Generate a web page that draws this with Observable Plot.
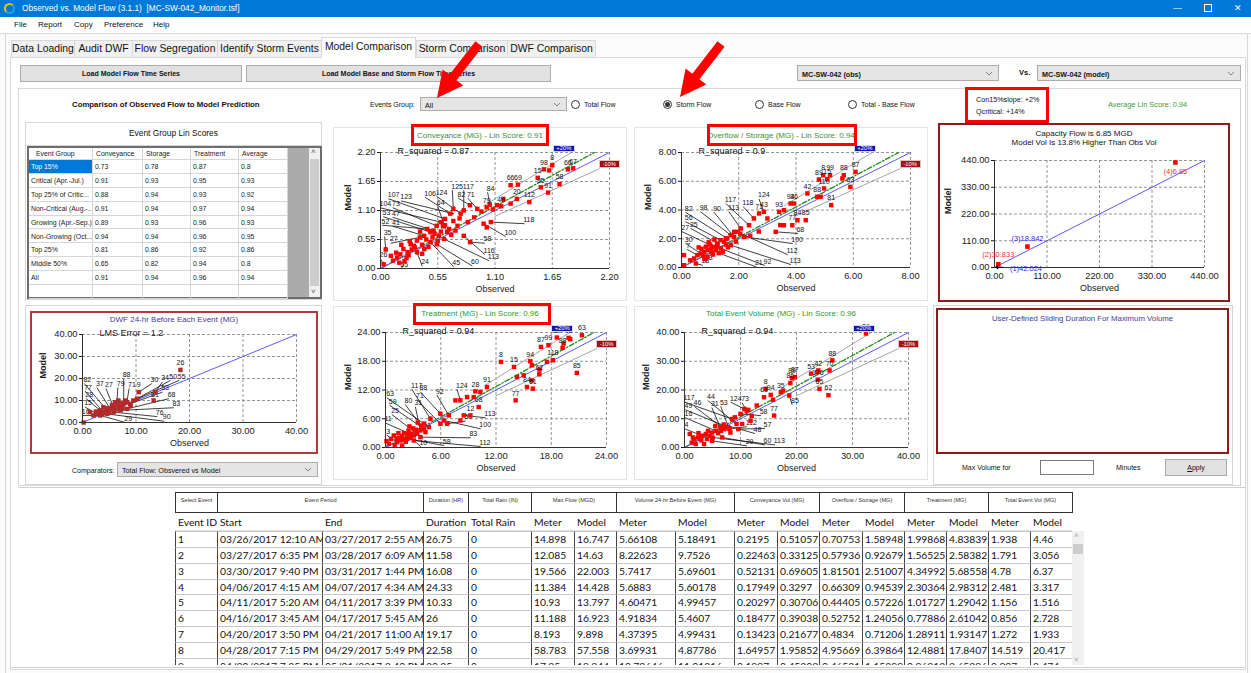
<!DOCTYPE html>
<html><head><meta charset="utf-8">
<script src="https://cdn.jsdelivr.net/npm/d3@7"></script>
<script src="https://cdn.jsdelivr.net/npm/@observablehq/plot@0.6"></script>
<style>
html,body{margin:0;padding:0}
body{width:1251px;height:673px;position:relative;overflow:hidden;background:#fff;font-family:"Liberation Sans",Arial,sans-serif;color:#111}
.abs{position:absolute;box-sizing:border-box}
svg{overflow:visible}
</style></head><body>
<script>
// ---------------- DATA ----------------
const tabNames = ["Data Loading","Audit DWF","Flow Segregation","Identify Storm Events","Model Comparison","Storm Comparison","DWF Comparison"];
const menuItems = ["File","Report","Copy","Preference","Help"];
const radioOptions = ["Total Flow","Storm Flow","Base Flow","Total - Base Flow"];

const groupNames = ["Top 15%","Critical (Apr.-Jul.)","Top 25% of Critic...","Non-Critical (Aug.-...","Growing (Apr.-Sep.)","Non-Growing (Oct...","Top 25%","Middle 50%","All"];
const conveyanceScores = [0.73,0.91,0.88,0.91,0.89,0.94,0.81,0.65,0.91];
const storageScores    = [0.78,0.93,0.94,0.94,0.93,0.94,0.86,0.82,0.94];
const treatmentScores  = [0.87,0.95,0.93,0.97,0.96,0.96,0.92,0.94,0.96];
const averageScores    = [0.8,0.93,0.92,0.94,0.93,0.95,0.86,0.8,0.94];

const chartTitles = ["Conveyance (MG) - Lin Score: 0.91","Overflow / Storage (MG) - Lin Score: 0.94","Treatment (MG) - Lin Score: 0.96","Total Event Volume (MG) - Lin Score: 0.96"];
const rSquaredLabels = ["R_squared = 0.87","R_squared = 0.9","R_squared = 0.94","R_squared = 0.94"];
const fitSlopes = [1.07,1.054,1.06,1.067];
const bandLabels = ["+20%","-10%"];
const bandFactors = [1.2,0.9];

const conveyanceTicks = [0,0.55,1.10,1.65,2.20];
const overflowTicks = [0,2,4,6,8];
const treatmentTicks = [0,6,12,18,24];
const totalTicks = [0,10,20,30,40];
const dwfTicks = [0,10,20,30,40];
const capacityTicks = [0,110,220,330,440];

// [observed, model, id]
const conveyancePoints = [[1.65,1.96,"8"],[1.57,1.88,"98"],[1.62,1.86,""],[1.51,1.72,"15"],[1.80,1.88,"66"],[1.85,1.90,"67"],[1.72,1.60,"58"],[1.54,1.54,"95"],[1.61,1.44,"91"],[1.25,1.58,"66"],[1.32,1.59,"69"],[1.43,1.26,"112"],[1.18,1.32,""],[1.25,1.23,""],[1.31,1.32,"20"],[1.16,1.18,"49"],[1.12,1.20,""],[1.02,1.16,"79"],[1.05,1.21,""],[0.93,1.13,""],[0.86,1.20,""],[0.80,1.10,""],[0.77,1.04,""],[0.70,1.13,""],[0.67,1.04,""],[0.62,0.94,""],[0.58,0.88,""],[0.54,0.81,""],[0.51,0.72,""],[0.48,0.69,""],[0.45,0.75,""],[0.42,0.62,""],[0.38,0.59,""],[0.35,0.53,""],[0.32,0.43,""],[0.29,0.46,""],[0.26,0.31,""],[0.22,0.37,""],[0.19,0.27,""],[0.16,0.21,""],[0.10,0.24,""],[0.05,0.36,""],[0.03,0.08,""],[0.18,0.11,""],[0.64,0.69,""],[0.74,0.81,""],[0.99,0.85,""],[1.06,0.88,""],[1.02,0.78,""],[0.80,0.62,""],[0.86,0.50,""],[0.61,0.56,""],[0.48,0.50,""],[0.54,0.46,""],[0.35,0.31,""],[0.42,0.37,""],[0.56,0.62,""],[0.66,0.75,""],[0.40,0.45,""],[0.30,0.36,""],[0.90,0.97,""],[0.97,1.08,""],[1.08,1.12,""],[0.50,0.60,""],[0.60,0.80,""],[0.70,0.90,""],[0.25,0.20,""],[0.12,0.15,""],[0.20,0.45,""],[0.15,0.30,""],[0.44,0.55,""],[0.52,0.66,""],[0.58,0.70,""],[0.68,0.64,""],[0.33,0.40,""],[0.27,0.25,""],[0.72,0.72,""],[0.46,0.41,""],[0.38,0.70,""],[0.62,0.82,""],[0.55,0.52,""],[0.76,0.95,""],[0.84,0.88,""],[0.28,0.52,""],[0.40,0.28,""],[0.23,0.14,""]];
// [id, label observed, label model, point observed, point model]
const conveyanceLeaders = [["107",0.08,1.32,0.62,0.94],["123",0.2,1.28,0.70,1.04],["104",0.0,1.15,0.58,0.88],["73",0.12,1.15,0.54,0.81],["53",0.03,0.98,0.48,0.69],["47",0.12,0.97,0.51,0.72],["52",0.02,0.82,0.45,0.75],["41",0.12,0.80,0.42,0.62],["35",0.04,0.60,0.05,0.36],["27",0.1,0.48,0.38,0.59],["26",0.0,0.18,0.03,0.08],["125",0.69,1.48,0.70,1.13],["117",0.80,1.48,0.80,1.10],["106",0.43,1.35,0.67,1.04],["124",0.54,1.37,0.77,1.04],["82",0.75,1.33,0.86,1.20],["71",0.84,1.33,0.93,1.13],["64",0.55,1.17,0.64,0.69],["84",1.03,1.44,1.05,1.21],["118",1.38,0.85,1.06,0.88],["100",1.2,0.61,0.99,0.85],["58",1.0,0.48,0.86,0.50],["116",1.0,0.27,0.80,0.62],["113",1.04,0.15,0.61,0.56],["60",0.88,0.05,0.54,0.46],["45",0.7,0.04,0.48,0.50],["24",0.4,0.05,0.35,0.31],["55",0.2,0.0,0.25,0.20]];

const overflowPoints = [[6.08,6.65,"87"],[5.67,6.42,"88"],[5.62,6.19,""],[5.90,5.61,"63"],[4.95,6.42,"8"],[5.19,6.42,"99"],[4.80,6.12,"89"],[5.09,6.15,"15"],[4.98,5.50,"110"],[4.74,4.92,"88"],[4.86,4.92,""],[5.23,4.34,"81"],[4.40,5.15,"42"],[3.93,4.45,"36"],[3.81,4.45,"94"],[3.58,3.99,""],[3.41,3.87,"93"],[4.05,3.29,"84"],[4.34,3.29,"85"],[3.87,2.94,"77"],[3.58,2.94,""],[3.45,2.95,""],[3.29,2.48,""],[3.00,3.41,""],[2.88,3.87,"43"],[2.71,3.76,"71"],[2.53,3.41,""],[2.36,2.94,""],[2.07,2.71,""],[1.95,2.48,""],[1.84,2.13,""],[1.72,2.25,""],[1.60,2.02,""],[1.49,1.79,""],[1.37,1.90,""],[1.26,1.67,""],[1.14,1.44,""],[1.02,1.32,""],[0.91,1.21,""],[0.79,1.09,""],[0.67,0.97,""],[0.56,0.86,""],[0.44,0.63,""],[0.09,0.86,""],[0.09,0.16,""],[0.50,0.28,""],[0.91,0.74,""],[1.72,1.55,""],[1.37,1.32,""],[2.19,2.13,""],[1.84,2.48,""],[1.55,2.02,""],[1.20,1.20,""],[1.00,1.60,""],[0.70,1.30,""],[1.10,0.90,""],[1.45,1.10,""],[0.80,0.60,""],[0.30,0.50,""],[2.40,2.20,""],[2.70,2.50,""],[1.90,1.80,""],[1.30,1.00,""],[0.60,1.40,""],[0.95,1.75,""],[1.15,1.95,""],[1.62,1.40,""],[0.85,1.45,""],[1.05,1.05,""],[1.25,1.50,""],[0.75,0.85,""],[1.55,1.60,""],[2.05,2.35,""]];
const overflowLeaders = [["117",1.55,4.45,2.36,2.94],["118",2.16,4.22,2.53,3.41],["124",2.71,4.75,2.88,3.87],["113",1.66,3.87,2.07,2.71],["90",1.14,3.83,1.84,2.13],["82",0.15,3.83,1.60,2.02],["98",0.67,3.87,1.72,2.25],["56",0.15,3.18,1.37,1.90],["25",0.33,2.71,1.26,1.67],["27",0.03,2.48,1.14,1.44],["30",0.15,1.67,0.67,0.97],["7",0.2,1.25,0.56,0.86],["33",0.85,0.39,0.91,0.74],["18",0.73,0.16,0.50,0.28],["100",3.87,1.67,2.19,2.13],["112",3.7,0.9,1.95,2.48],["113",3.81,0.21,1.72,1.55],["68",4.05,2.37,3.29,2.48],["92",2.9,0.15,1.37,1.32],["21",2.6,0.05,1.30,1.00]];

const treatmentPoints = [[20.78,15.56,"85"],[14.13,9.84,"77"],[12.54,17.86,"8"],[13.95,16.81,"15"],[15.36,12.63,"84"],[15.9,14.0,""],[16.0,12.28,"61"],[16.7,15.28,"62"],[16.73,16.26,""],[15.72,18.0,"94"],[15.9,17.16,""],[17.53,17.86,""],[17.7,21.35,"99"],[16.88,21.0,"87"],[18.18,18.21,"118"],[19.34,21.7,""],[19.23,20.79,"88"],[19.88,22.88,"42"],[20.06,22.6,""],[21.33,23.44,"63"],[18.61,22.95,"39"],[15.0,15.07,""],[14.28,14.72,""],[11.02,12.63,"91"],[9.76,11.72,"28"],[10.3,11.58,""],[8.86,10.53,""],[9.58,10.53,""],[8.13,9.84,""],[7.59,9.84,""],[10.12,8.44,"68"],[9.22,6.7,"12"],[8.5,6.7,""],[8.13,5.65,""],[6.87,6.7,""],[6.33,5.65,""],[5.96,4.95,""],[4.88,6.0,""],[4.7,4.26,""],[4.16,3.91,""],[3.79,3.56,""],[3.43,2.86,""],[3.07,2.51,""],[2.71,2.16,""],[2.35,1.81,""],[1.99,1.6,""],[1.63,1.47,""],[1.27,1.12,""],[0.9,2.51,""],[0.36,0.77,""],[0.11,1.33,""],[1.81,0.42,""],[3.07,1.47,""],[3.79,2.16,""],[4.34,3.21,""],[6.69,4.95,""],[5.96,7.05,""],[2.0,3.0,""],[2.5,3.5,""],[1.5,2.0,""],[3.0,4.0,""],[1.0,0.5,""],[2.2,1.2,""],[0.6,1.8,""],[3.5,5.2,""],[4.2,5.0,""],[2.8,2.9,""],[1.8,2.4,""],[3.3,3.7,""],[2.4,2.7,""],[1.2,1.9,""],[2.6,4.4,""],[1.4,3.0,""],[3.9,4.6,""]];
const treatmentLeaders = [["117",2.89,12.07,4.88,6.0],["88",3.79,11.58,5.96,7.05],["92",5.6,10.88,6.87,6.7],["124",7.77,12.07,8.13,9.84],["63",0.18,10.33,4.7,4.26],["59",0.47,8.79,4.16,3.91],["80",2.17,8.93,4.34,3.21],["71",3.43,9.98,5.96,4.95],["31",3.25,8.44,3.79,3.56],["25",0.72,6.84,3.43,2.86],["11",0.0,5.09,3.07,2.51],["3",0.18,2.51,1.27,1.12],["100",10.3,3.91,6.33,5.65],["113",10.84,6.21,8.5,6.7],["58",8.67,5.51,6.69,4.95],["83",9.22,2.02,3.79,2.16],["112",10.3,0.21,3.07,1.47],["10",3.79,0.21,2.71,2.16],["58",6.33,0.42,2.35,1.81]];

const totalPoints = [[32.4,39.65,"39"],[26.4,30.3,"88"],[25.9,26.8,"70"],[23.9,26.8,"42"],[23.7,26.2,""],[22.6,25.7,"53"],[23.8,23.6,"176"],[24.1,20.4,"65"],[25.7,18.2,"62"],[19.7,24.5,"87"],[19.2,24.1,"89"],[18.9,22.4,"86"],[18.7,18.1,""],[17.2,19.2,"35"],[17.6,19.8,""],[15.4,18.3,"94"],[14.5,20.4,"8"],[14.2,17.5,"61"],[15.8,16.6,""],[16.0,11.1,"77"],[12.9,14.6,""],[11.4,13.1,""],[11.1,12.8,""],[10.7,13.4,""],[10.0,11.7,""],[11.8,9.3,""],[10.3,8.2,""],[9.3,8.2,""],[8.5,9.9,""],[7.8,7.0,""],[7.1,6.4,""],[6.4,7.0,""],[5.6,5.8,""],[4.9,5.2,""],[4.2,5.8,""],[3.8,4.7,""],[3.1,4.1,""],[2.4,3.5,""],[1.7,2.9,""],[1.3,1.7,""],[2.0,1.2,""],[3.5,1.2,""],[4.9,2.3,""],[0.94,4.7,""],[6.7,3.5,""],[8.2,5.2,""],[9.6,6.4,""],[5.0,3.5,""],[6.0,5.0,""],[7.0,8.0,""],[3.0,2.5,""],[2.5,5.0,""],[8.0,6.5,""],[9.0,10.5,""],[12.0,11.0,""],[4.0,3.0,""],[5.5,7.5,""],[1.5,3.5,""],[2.8,3.0,""],[4.5,4.0,""],[6.5,5.8,""]];
const totalLeaders = [["117",0.0,15.8,8.5,9.9],["44",4.2,16.3,9.3,8.2],["124",8.3,15.7,10.7,13.4],["73",10.3,15.5,11.1,12.8],["49",0.2,13.1,7.8,7.0],["46",1.8,14.2,7.1,6.4],["31",4.9,13.8,6.4,7.0],["53",6.5,14.2,8.2,5.2],["16",0.2,10.3,5.6,5.8],["4",0.2,6.4,3.1,4.1],["57",14.3,6.6,9.6,6.4],["112",11.1,7.2,8.0,6.5],["48",12.5,4.9,7.0,8.0],["60",14.3,0.9,6.7,3.5],["113",16.1,0.9,5.0,3.5],["29",11.1,0.6,4.9,2.3],["85",19.2,15.0,18.7,18.1],["58",13.6,11.1,10.0,11.7]];

const dwfPoints = [[18.3,23.9,"26"],[13.6,13.8,""],[13.3,10.0,""],[10.5,13.8,"9"],[10.2,10.8,""],[0.2,0.0,""],[3.3,5.5,""],[3.9,4.7,""],[4.6,5.5,""],[5.2,6.2,""],[5.8,7.0,""],[6.4,7.7,""],[7.1,7.0,""],[7.7,8.5,""],[8.3,9.2,""],[8.9,8.5,""],[9.5,10.0,""],[2.7,3.9,""],[2.1,3.2,""],[3.3,3.2,""],[4.6,3.9,""],[5.8,4.7,""],[7.1,5.5,""],[8.3,6.2,""],[1.4,4.7,""],[3.9,7.0,""],[6.1,9.2,""],[6.7,10.0,""],[8.0,10.0,""],[4.0,5.0,""],[5.0,4.5,""],[6.0,5.5,""],[7.5,6.5,""],[3.0,4.5,""],[2.5,5.0,""],[9.0,7.5,""],[5.5,8.0,""],[4.5,6.5,""],[7.0,9.0,""],[3.6,3.8,""],[4.2,4.2,""],[6.8,6.0,""]];
const dwfLeaders = [["82",0.37,17.6,4.6,5.5],["77",0.5,14.2,3.9,4.7],["37",2.7,15.8,5.2,6.2],["27",4.4,15.3,5.8,7.0],["88",7.7,19.7,7.7,8.5],["79",6.6,15.8,6.4,7.7],["71",8.7,15.3,8.3,9.2],["28",0.7,10.8,3.3,5.5],["15",0.5,7.0,2.7,3.9],["16",0.06,3.2,2.1,3.2],["30",12.9,17.6,10.5,13.8],["34",14.9,18.3,13.6,13.8],["50",16.4,19.1,10.2,10.8],["55",18.0,19.1,9.5,10.0],["53",14.9,13.8,8.9,8.5],["68",16.1,10.8,8.3,6.2],["81",13.0,10.8,13.3,10.0],["83",17.0,6.7,7.1,5.5],["76",13.9,2.7,5.8,4.7],["90",15.2,0.6,4.6,3.9],["29",8.0,0.0,3.3,3.2]];

const capacityObserved = [3,8,69,379];
const capacityModel = [1,13,86,432];
const capacityLabels = ["(1)42.024","(2)30.833","(3)18.842","(4)6.85"];

const eventIds = ["1","2","3","4","5","6","7","8","9"];
const eventStart = ["03/26/2017 12:10 AM","03/27/2017 6:35 PM","03/30/2017 9:40 PM","04/06/2017 4:15 AM","04/11/2017 5:20 AM","04/16/2017 3:45 AM","04/20/2017 3:50 PM","04/28/2017 7:15 PM","04/30/2017 7:35 PM"];
const eventEnd = ["03/27/2017 2:55 AM","03/28/2017 6:09 AM","03/31/2017 1:44 PM","04/07/2017 4:34 AM","04/11/2017 3:39 PM","04/17/2017 5:45 AM","04/21/2017 11:00 AM","04/29/2017 5:49 PM","05/01/2017 2:40 PM"];
const durations = ["26.75","11.58","16.08","24.33","10.33","26","19.17","22.58","20.25"];
const totalRain = ["0","0","0","0","0","0","0","0","0"];
const maxFlowMeter = ["14.898","12.085","19.566","11.384","10.93","11.188","8.193","58.783","17.85"];
const maxFlowModel = ["16.747","14.63","22.003","14.428","13.797","16.923","9.898","57.558","19.844"];
const vol24Meter = ["5.66108","8.22623","5.7417","5.6883","4.60471","4.91834","4.37395","3.69931","10.78646"];
const vol24Model = ["5.18491","9.7526","5.69601","5.60178","4.99457","5.4607","4.99431","4.87786","11.01816"];
const convMeter = ["0.2195","0.22463","0.52131","0.17949","0.20297","0.18477","0.13423","1.64957","0.1997"];
const convModel = ["0.51057","0.33125","0.69605","0.3297","0.30706","0.39038","0.21677","1.95852","0.45203"];
const ovfMeter = ["0.70753","0.57936","1.81501","0.66309","0.44405","0.52752","0.4834","4.95669","0.46521"];
const ovfModel = ["1.58948","0.92679","2.51007","0.94539","0.57226","1.24056","0.71206","6.39864","1.15399"];
const treatMeter = ["1.99868","1.56525","4.34992","2.30364","1.01727","0.77886","1.28911","12.4881","0.96213"];
const treatModel = ["4.83839","2.58382","5.68558","2.98312","1.29042","2.61042","1.93147","17.8407","2.65896"];
const totalMeter = ["1.938","1.791","4.78","2.481","1.156","0.856","1.272","14.519","0.907"];
const totalModel = ["4.46","3.056","6.37","3.317","1.516","2.728","1.933","20.417","2.474"];

// ---------------- HELPERS ----------------
const F = '"Liberation Sans", Arial, sans-serif';
function box(x, y, w, h, css = "", html = "") {
  const d = document.createElement("div");
  d.className = "abs";
  let s = `left:${x}px;top:${y}px;`;
  if (w != null) s += `width:${w}px;`;
  if (h != null) s += `height:${h}px;`;
  d.style.cssText = s + css;
  d.innerHTML = html;
  document.body.appendChild(d);
  return d;
}
function label(x, y, text, css = "") { return box(x, y, null, null, "white-space:nowrap;" + css, text); }
function center(x, y, w, text, css = "") { return box(x, y, w, null, "white-space:nowrap;text-align:center;" + css, text); }
function dropdown(x, y, w, h, text, css = "") {
  box(x, y, w, h, "background:#e5e5e5;border:1px solid #acacac;" + css,
    `<span style="position:absolute;left:4px;top:${(h - 11) / 2}px;font-size:7.2px;line-height:11px">${text}</span>` +
    `<svg width="8" height="5" style="position:absolute;right:5px;top:${(h - 7) / 2}px"><path d="M1,1 L4,4 L7,1" fill="none" stroke="#777" stroke-width="0.9"/></svg>`);
}

// ---------------- WINDOW CHROME ----------------
box(0, 0, 1251, 17, "background:#0078d7");
box(4, 3, 11, 11, "border-radius:50%;border:2.5px solid #e9c400;border-right-color:#1fa0e0;border-bottom-color:#1fa0e0");
label(22, 3, "Observed vs. Model Flow (3.1.1)&nbsp; [MC-SW-042_Monitor.tsf]", "color:#fff;font-size:8.3px;line-height:11px");
label(1173, 1, "&#8212;", "color:#fff;font-size:9px;line-height:14px");
box(1204, 4, 8, 8, "border:1px solid #fff");
label(1234, 1, "&#10005;", "color:#fff;font-size:9px;line-height:14px");
box(0, 17, 1251, 16, "background:#fff");
const menuX = [14, 38, 74, 104, 153];
menuItems.forEach((m, i) => label(menuX[i], 20, m, "font-size:8px;line-height:10px"));
box(0, 33, 1251, 1, "background:#dadada");
box(0, 34, 1251, 639, "background:#fbfbfb");
box(5, 34, 1, 639, "background:#d8d8d8");
box(1247, 34, 1, 639, "background:#d8d8d8");

// main panel
box(10, 57, 1236, 613, "background:#fff;border:1px solid #d9d9d9");
const tabEdges = [11, 74, 132, 217, 321, 416, 507, 595];
tabNames.forEach((t, i) => {
  const act = i === 4;
  box(tabEdges[i], act ? 37 : 40, tabEdges[i + 1] - tabEdges[i] + (act ? 0 : 1), act ? 21 : 17,
    `background:${act ? "#fff" : "#f0f0f0"};border:1px solid #d9d9d9;border-bottom:none;font-size:10.4px;text-align:center;line-height:${act ? 18 : 16}px;white-space:nowrap;z-index:${act ? 2 : 1}`, t);
});

// top buttons & selectors
box(20, 65, 222, 17, "background:#e1e1e1;border:1px solid #adadad;font-weight:bold;font-size:7px;text-align:center;line-height:15px", "Load Model Flow Time Series");
box(246, 65, 305, 17, "background:#e1e1e1;border:1px solid #adadad;font-weight:bold;font-size:7px;text-align:center;line-height:15px", "Load Model Base and Storm Flow Time Series");
dropdown(797, 65, 202, 16, "<b>MC-SW-042 (obs)</b>");
label(1019, 68, "Vs.", "font-weight:bold;font-size:7.5px;line-height:10px");
dropdown(1037, 65, 204, 16, "<b>MC-SW-042 (model)</b>");

// inner panel
box(18, 88, 1223, 398, "border:1px solid #d9d9d9;border-right:none");
box(1240, 88, 1, 398, "background:#d0d0d0");
label(72, 100, "Comparison of Observed Flow to Model Prediction", "font-weight:bold;font-size:7.8px;line-height:10px");
label(370, 100, "Events Group:", "font-size:7px;line-height:10px");
dropdown(420, 97, 147, 14, "All");
const radioX = [571, 663, 755, 848];
radioOptions.forEach((r, i) => {
  box(radioX[i], 100, 9, 9, "border:1px solid #333;border-radius:50%;background:#fff");
  if (i === 1) box(radioX[i] + 2, 102, 5, 5, "border-radius:50%;background:#333");
  label(radioX[i] + 13, 100, r, "font-size:7px;line-height:10px");
});
box(965, 87, 84, 36, "border:3px solid #ff0000");
label(976, 95, "Con15%slope: +2%", "font-size:7.2px;line-height:9px");
label(976, 107, "Qcritical: +14%", "font-size:7.2px;line-height:9px");
label(1108, 100, "Average Lin Score: 0.94", "font-size:7.4px;line-height:10px;color:#3a9a3a");

// ---------------- LEFT: LIN SCORE TABLE ----------------
box(25, 122, 297, 178, "border:1px solid #d6d6d6");
center(25, 128, 297, "Event Group Lin Scores", "font-size:8.4px;line-height:10px");
box(26, 145, 295, 155, "border-top:1px solid #d6d6d6");
box(27, 146, 295, 153, "border:2px solid #6d6d6d;background:#fff");
const colX = [29, 93, 143, 191, 239, 288];
const heads = ["Event Group", "Conveyance", "Storage", "Treatment", "Average"];
const tableCols = [groupNames, conveyanceScores, storageScores, treatmentScores, averageScores];
heads.forEach((h, c) => box(colX[c], 148, colX[c + 1] - colX[c], 12, "border-right:1px solid #d6d6d6;border-bottom:1px solid #d6d6d6;font-size:6.9px;line-height:11px;padding-left:" + (c === 0 ? 7 : 3) + "px;white-space:nowrap;color:#222", h));
for (let r = 0; r < 10; r++) {
  const y = 160 + r * 13.9;
  for (let c = 0; c < 5; c++) {
    const sel = r === 0 && c === 0;
    const v = r < 9 ? String(tableCols[c][r]) : "";
    box(colX[c], y, colX[c + 1] - colX[c], 13.9, `border-right:1px solid #d6d6d6;border-bottom:1px solid #d6d6d6;font-size:6.9px;line-height:13px;padding-left:2px;white-space:nowrap;overflow:hidden;${sel ? "background:#0078d7;color:#fff" : "color:#222"}`, v);
  }
}
box(288, 148, 21, 149, "background:#ababab");
box(309, 148, 11, 149, "background:#f0f0f0");
box(310, 159, 9, 127, "background:#cdcdcd");
label(311, 147, "&#708;", "font-size:8px;line-height:10px;color:#555");
label(311, 287, "&#709;", "font-size:8px;line-height:10px;color:#555");

// ---------------- CHART BUILDER ----------------
function scatter(o) {
  const max = o.ticks[o.ticks.length - 1];
  const fmt = d => d.toFixed(2);
  const P = o.points.map(([x, y, id]) => ({ x, y, id }));
  const L = (o.leaders || []).map(([id, lx, ly, px, py]) => ({ id, lx, ly, px, py }));
  const grid = { stroke: "#7a7a7a", strokeOpacity: 1, strokeWidth: 0.8, strokeDasharray: "3,2" };
  const marks = [
    Plot.gridX({ ticks: o.ticks.slice(1), ...grid }),
    Plot.gridY({ ticks: o.ticks.slice(1), ...grid }),
    Plot.axisX({ ticks: o.ticks, tickFormat: fmt, tickSize: 0, tickPadding: 5, label: null }),
    Plot.axisY({ ticks: o.ticks, tickFormat: fmt, tickSize: 3, tickPadding: 2, label: null }),
  ];
  if (o.slope) {
    const up = bandFactors[0], lo = bandFactors[1];
    marks.push(Plot.line([[max * 0.45, max * 0.45 * up], [max / up, max]], { stroke: "#9a9a9a", strokeWidth: 0.9 }));
    marks.push(Plot.line([[max * 0.5, max * 0.5 * lo], [max * 0.955, max * 0.955 * lo]], { stroke: "#9a9a9a", strokeWidth: 0.9 }));
    marks.push(Plot.line([[0, 0], [max / o.slope, max]], { stroke: "#1e8c1e", strokeWidth: 1.3, strokeDasharray: "5,2,1.5,2" }));
  }
  marks.push(Plot.line([[0, 0], [max, max]], { stroke: "#5a5aff", strokeWidth: 1 }));
  marks.push(Plot.arrow(L, { x1: "lx", y1: "ly", x2: "px", y2: "py", stroke: "#000", strokeWidth: 0.75, headLength: 4.5, headAngle: 50 }));
  marks.push(Plot.text(L, { x: "lx", y: "ly", text: "id", dy: -4, dx: -1, textAnchor: "start", fontSize: 7, fill: "#111" }));
  marks.push(Plot.dot(P, { x: "x", y: "y", symbol: "square", r: 2.5, fill: o.color, stroke: "none" }));
  marks.push(Plot.text(P.filter(d => d.id), { x: "x", y: "y", text: "id", dy: -7, fontSize: 7, fill: "#111" }));
  marks.push(Plot.ruleX([0], { stroke: "#333", strokeWidth: 1 }));
  marks.push(Plot.ruleY([0], { stroke: "#333", strokeWidth: 1 }));
  marks.push(Plot.text([o.note], { frameAnchor: "top-left", text: d => d, dx: 17, dy: 1, lineAnchor: "bottom", textAnchor: "start", fontSize: 9, fill: o.noteColor || "#111" }));
  marks.push(Plot.text(["Observed"], { frameAnchor: "bottom", text: d => d, dy: 23, fontSize: 9 }));
  marks.push(Plot.text(["Model"], { frameAnchor: "left", text: d => d, rotate: -90, dx: o.modelDx, fontSize: 9, fontWeight: "bold" }));
  if (o.extra) marks.push(...o.extra);
  const svg = Plot.plot({
    width: o.w, height: o.h, marginLeft: o.ml, marginTop: o.mt, marginRight: o.mr, marginBottom: o.mb,
    x: { domain: [0, max] }, y: { domain: [0, max] },
    style: { fontFamily: F, fontSize: "9.3px", color: "#1a1a1a", background: "transparent", overflow: "visible" },
    marks
  });
  const host = box(o.x, o.y, o.w, o.h, "");
  host.appendChild(svg);
  if (o.slope) {
    const sx = svg.scale("x"), sy = svg.scale("y");
    const ux = o.x + sx.apply(max / bandFactors[0]), uy = o.y + sy.apply(max);
    box(ux - 18, uy - 7, 22, 7, "background:#1414b4;border:1px solid #d8d8ff;color:#fff;font-size:5.8px;line-height:5px;text-align:center", bandLabels[0]);
    const lx = o.x + sx.apply(max * 0.955), ly = o.y + sy.apply(max * 0.955 * bandFactors[1]);
    box(lx, ly - 8, 21, 8, "background:#a01010;border:1px solid #e8c0c0;color:#fff;font-size:5.8px;line-height:6px;text-align:center", bandLabels[1]);
  }
  return svg;
}

// chart panels (light borders)
box(333, 127, 294, 174, "border:1px solid #e4e4e4");
box(634, 127, 294, 174, "border:1px solid #e4e4e4");
box(333, 306, 294, 174, "border:1px solid #e4e4e4");
box(634, 306, 294, 174, "border:1px solid #e4e4e4");
const panels = [
  { x: 333, y: 127, ml: 47, mt: 25, mr: 18, mb: 33, modelDx: -32, ticks: conveyanceTicks, points: conveyancePoints, leaders: conveyanceLeaders, ty: 131 },
  { x: 634, y: 127, ml: 47, mt: 25, mr: 18, mb: 34, modelDx: -33, ticks: overflowTicks, points: overflowPoints, leaders: overflowLeaders, ty: 131 },
  { x: 333, y: 306, ml: 52, mt: 26, mr: 21, mb: 33, modelDx: -37, ticks: treatmentTicks, points: treatmentPoints, leaders: treatmentLeaders, ty: 309 },
  { x: 634, y: 306, ml: 50, mt: 26, mr: 20, mb: 33, modelDx: -38, ticks: totalTicks, points: totalPoints, leaders: totalLeaders, ty: 309 },
];
panels.forEach((p, i) => {
  center(p.x, p.ty, 294, chartTitles[i], "font-size:8px;line-height:10px;color:#2e9a2e");
  scatter({ ...p, w: 294, h: 174, slope: fitSlopes[i], color: "#ff0000", note: rSquaredLabels[i] });
});
// red highlight boxes
box(411, 124, 138, 22, "border:3px solid #ff0000");
box(707, 124, 150, 22, "border:3px solid #ff0000");
box(413, 303, 138, 22, "border:3px solid #ff0000");

// ---------------- DWF CHART ----------------
box(25, 305, 297, 180, "border:1px solid #d6d6d6");
box(30, 311, 288, 143, "border:2px solid #b23a3a;background:#fff");
center(30, 315, 288, "DWF 24-hr Before Each Event (MG)", "font-size:8px;line-height:10px;color:#3d3d9c");
scatter({ x: 30, y: 311, w: 288, h: 143, ml: 52, mt: 23, mr: 22, mb: 32, modelDx: -39, ticks: dwfTicks, points: dwfPoints, leaders: dwfLeaders, color: "#b22a2a", note: "LMS Error = 1.2", noteColor: "#222" });
label(72, 466, "Comparators:", "font-size:7px;line-height:10px");
dropdown(117, 462, 201, 15, "Total Flow: Obsvered vs Model");

// ---------------- CAPACITY CHART ----------------
box(938, 123, 292, 179, "border:2px solid #8c1c1c;background:#fff");
center(938, 129, 292, "Capacity Flow is 6.85 MGD", "font-size:8px;line-height:9px");
center(938, 138, 292, "Model Vol Is 13.8% Higher Than Obs Vol", "font-size:8px;line-height:9px");
{
  const C = capacityObserved.map((x, i) => ({ x, y: capacityModel[i], t: capacityLabels[i], i }));
  const capColors = ["#2a2af0", "#f03030", "#2a2af0", "#f03030"];
  scatter({
    x: 938, y: 123, w: 292, h: 179, ml: 56, mt: 37, mr: 26, mb: 35, modelDx: -46, ticks: capacityTicks, points: [], leaders: [], color: "#ff0000", note: "",
    extra: [
      Plot.dot(C.filter(d => d.i > 0), { x: "x", y: "y", symbol: "square", r: 2.6, fill: "#ff0000" }),
      Plot.arrow(C.filter(d => d.i === 0), { x1: d => d.x + 14, y1: "y", x2: "x", y2: "y", stroke: "#000", strokeWidth: 1.2, headLength: 6, headAngle: 70 }),
      Plot.text(C.filter(d => d.i === 0), { x: "x", y: "y", text: "t", dx: 14, dy: 1, textAnchor: "start", fontSize: 7.5, fill: capColors[0] }),
      Plot.text(C.filter(d => d.i === 1), { x: "x", y: "y", text: "t", dy: -10, fontSize: 7.5, fill: capColors[1] }),
      Plot.text(C.filter(d => d.i === 2), { x: "x", y: "y", text: "t", dy: -8, fontSize: 7.5, fill: capColors[2] }),
      Plot.text(C.filter(d => d.i === 3), { x: "x", y: "y", text: "t", dy: 9, fontSize: 7.5, fill: capColors[3] }),
    ]
  });
}

// ---------------- USER-DEFINED PANEL ----------------
box(933, 305, 300, 180, "border:1px solid #d6d6d6");
box(936, 308, 293, 146, "border:2px solid #8c1c1c;background:#fff");
center(936, 314, 293, "User-Defined Sliding Duration For Maximum Volume", "font-size:7.8px;line-height:10px;color:#3d3d9c");
label(962, 463, "Max Volume for", "font-size:7px;line-height:10px");
box(1040, 460, 54, 15, "border:1px solid #7a7a7a;background:#fff");
label(1116, 463, "Minutes", "font-size:7px;line-height:10px");
box(1165, 459, 62, 17, "background:#e1e1e1;border:1px solid #adadad;font-size:7px;line-height:15px;text-align:center", "<u>A</u>pply");

// ---------------- BOTTOM EVENT TABLE ----------------
box(18, 487, 1227, 1, "background:#d0d0d0");
box(10, 667, 1236, 1, "background:#d0d0d0");
const bx = [175, 217, 322, 423, 468, 531, 574, 616, 675, 734, 777, 819, 862, 904, 946, 988, 1030, 1072];
const groups = [["Select Event", 0, 1], ["Event Period", 1, 3], ["Duration (HR)", 3, 4], ["Total Rain (IN)", 4, 5], ["Max Flow (MGD)", 5, 7], ["Volume 24-hr Before Event (MG)", 7, 9], ["Conveyance Vol (MG)", 9, 11], ["Overflow / Storage (MG)", 11, 13], ["Treatment (MG)", 13, 15], ["Total Event Vol (MG)", 15, 17]];
groups.forEach(([g, a, b]) => box(bx[a], 492, bx[b] - bx[a] + 1, 21, "border:1px solid #333;background:#fff;font-size:5.6px;line-height:8px;padding-top:3px;text-align:center;white-space:nowrap;overflow:hidden;color:#333", g));
const colHeads = ["Event ID", "Start", "End", "Duration", "Total Rain", "Meter", "Model", "Meter", "Model", "Meter", "Model", "Meter", "Model", "Meter", "Model", "Meter", "Model"];
const colData = [eventIds, eventStart, eventEnd, durations, totalRain, maxFlowMeter, maxFlowModel, vol24Meter, vol24Model, convMeter, convModel, ovfMeter, ovfModel, treatMeter, treatModel, totalMeter, totalModel];
const tb = box(175, 513, 897, 152, "overflow:hidden;background:#fff;font-family:Lato,'Open Sans',sans-serif");
colHeads.forEach((h, c) => {
  const d = document.createElement("div");
  d.className = "abs";
  d.style.cssText = `left:${bx[c] - 175}px;top:0;width:${bx[c + 1] - bx[c]}px;height:18px;padding-left:3px;font-size:10.3px;line-height:18px;white-space:nowrap;overflow:hidden;border-bottom:1px solid #e0e0e0;background:#fff`;
  d.textContent = h;
  tb.appendChild(d);
});
const rowH = 15.86;
for (let r = 0; r < eventIds.length; r++) {
  colData.forEach((col, c) => {
    const d = document.createElement("div");
    d.className = "abs";
    d.style.cssText = `left:${bx[c] - 175}px;top:${18 + r * rowH}px;width:${bx[c + 1] - bx[c] + 1}px;height:${rowH + 1}px;padding-left:2px;font-size:10.3px;line-height:${rowH}px;white-space:nowrap;overflow:hidden;border:1px solid #444;border-top:1px solid #c8c8c8;border-bottom:none;border-right:none`;
    d.textContent = col[r];
    tb.appendChild(d);
  });
}
box(1072, 531, 12, 134, "background:#f0f0f0");
box(1073, 544, 10, 10, "background:#cdcdcd");
label(1074, 531, "&#708;", "font-size:8px;line-height:10px;color:#999");
label(1074, 655, "&#709;", "font-size:8px;line-height:10px;color:#999");

// ---------------- RED ANNOTATION ARROWS ----------------
function redArrow(tx, ty, hx, hy) {
  const dx = hx - tx, dy = hy - ty, len = Math.hypot(dx, dy);
  const ux = dx / len, uy = dy / len, px = -uy, py = ux;
  const hl = 26, hw = 13, sw = 4.5;
  const bxp = hx - ux * hl, byp = hy - uy * hl;
  const pts = [[hx, hy], [bxp + px * hw, byp + py * hw], [bxp + px * sw, byp + py * sw], [tx + px * sw, ty + py * sw], [tx - px * sw, ty - py * sw], [bxp - px * sw, byp - py * sw], [bxp - px * hw, byp - py * hw]];
  return `<polygon points="${pts.map(p => p.join(",")).join(" ")}" fill="#ff0000"/>`;
}
const ov = document.createElementNS("http://www.w3.org/2000/svg", "svg");
ov.setAttribute("width", 1251); ov.setAttribute("height", 673);
ov.style.cssText = "position:absolute;left:0;top:0;pointer-events:none;z-index:10";
ov.innerHTML = redArrow(479, 44, 437, 98) + redArrow(721, 44, 680, 97);
document.body.appendChild(ov);
</script>
</body></html>
